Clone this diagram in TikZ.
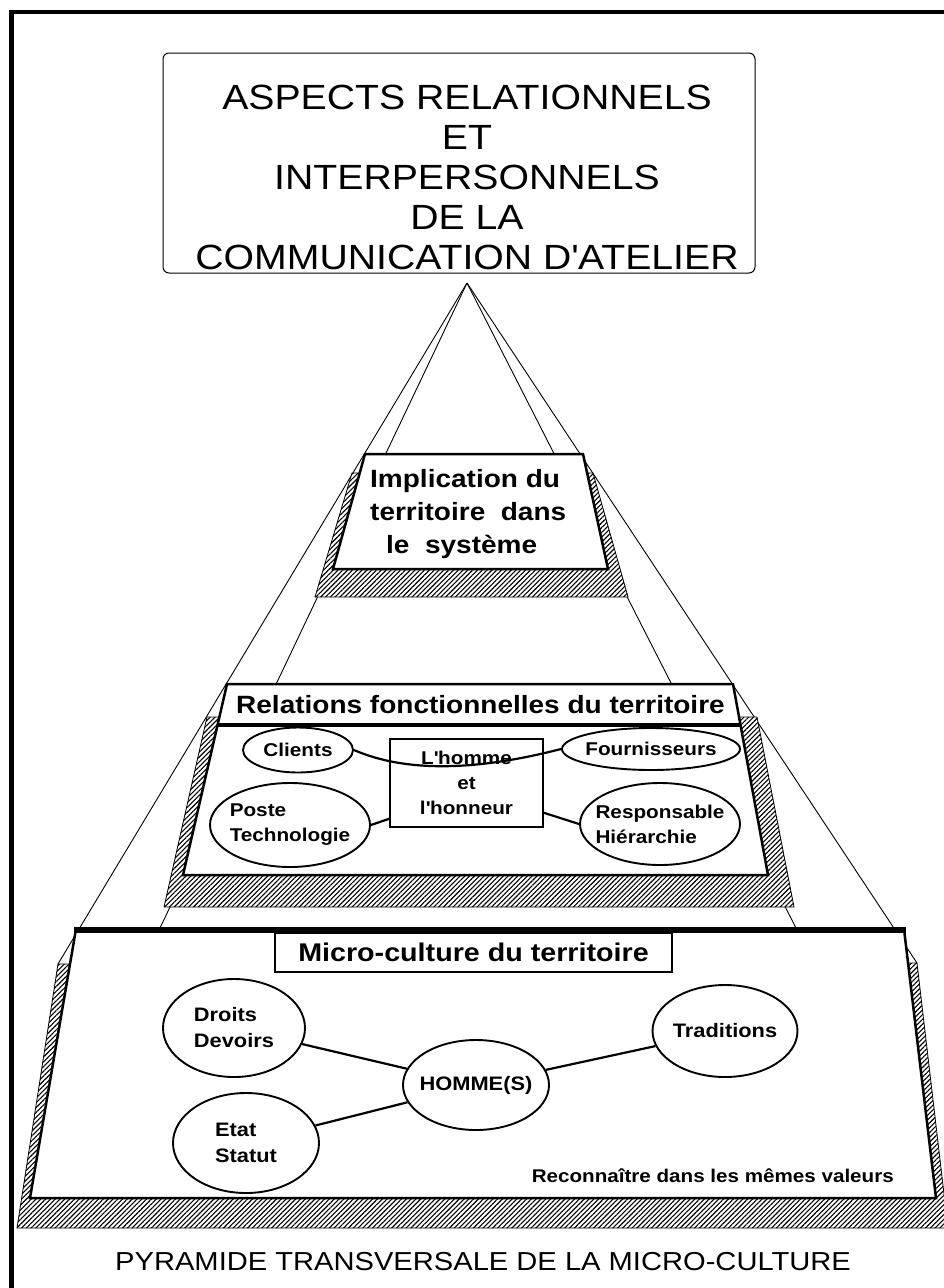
\documentclass[tikz,border=0pt]{standalone}
\usepackage{fontspec}
\setmainfont{Liberation Sans}[FakeStretch=1.12]
\usetikzlibrary{shapes.geometric,patterns.meta}
\tikzset{
  titlebox/.style={draw, rounded corners=6pt, line width=1pt, fill=white},
  titletext/.style={font=\fontsize{35}{40}\selectfont, align=center, inner sep=0pt},
  edgeline/.style={line width=0.9pt},
  levelbox/.style={draw, line width=2.5pt, fill=white, line join=miter},
  shadowbox/.style={draw, line width=0.8pt, preaction={fill=white},
    pattern={Lines[angle=45, distance=3.4pt, line width=1.1pt]}},
  lvltext/.style={font=\bfseries\fontsize{25}{33}\selectfont, inner sep=0pt},
  bubble/.style={ellipse, draw, line width=1.9pt, fill=white, inner sep=-14pt,
    align=left, font=\bfseries\fontsize{18.5}{25}\selectfont},
  bigbubble/.style={bubble, font=\bfseries\fontsize{19.5}{26}\selectfont},
  homebox/.style={draw, line width=1.5pt, fill=white, align=center,
    font=\bfseries\fontsize{18.5}{25}\selectfont},
  namebox/.style={draw, line width=1.8pt, fill=white, inner sep=0pt,
    font=\bfseries\fontsize{25.6}{30}\selectfont},
  link/.style={line width=2.2pt},
}
\begin{document}
\begin{tikzpicture}[x=1pt, y=-1pt]
  \useasboundingbox (0,0) rectangle (944,1288);
  % frame
  \draw[line width=4.5pt] (11.5,1288) -- (11.5,12) -- (946,12);

  % title
  \node[titlebox, minimum width=592pt, minimum height=220pt] (titlebox) at (459,163) {};
  \node[titletext, anchor=north] (title) at (467,85)
    {ASPECTS RELATIONNELS\\ET\\INTERPERSONNELS\\DE LA\\COMMUNICATION D\textquotesingle ATELIER};

  % pyramid edges
  \coordinate (apex) at (467,283);
  \coordinate (outerL) at (58,964);
  \coordinate (outerR) at (917,963);
  \coordinate (innerL) at (160,928);
  \coordinate (innerR) at (796,928);
  \draw[edgeline] (apex) -- (outerL);
  \draw[edgeline] (apex) -- (outerR);
  \draw[edgeline] (apex) -- (innerL);
  \draw[edgeline] (apex) -- (innerR);

  % top level
  \draw[shadowbox] (352,473) -- (593,473) -- (628,597) -- (315,597) -- cycle;
  \draw[levelbox] (365,454) -- (583,454) -- (608,569) -- (333,569) -- cycle;
  \node[lvltext, align=left, anchor=north west] (impl) at (370,469)
    {Implication du\\territoire\ \ dans\\\hspace*{16pt}le\ \ système};

  % middle level
  \draw[shadowbox] (207,717) -- (757,717) -- (794,907) -- (164,907) -- cycle;
  \draw[levelbox] (227,684) -- (733,684) -- (768,875) -- (183,875) -- cycle;
  \draw[line width=4pt] (217,725) -- (740,725);
  \node[lvltext, anchor=base west] (reltitle) at (236,713)
    {Relations fonctionnelles du territoire};
  \node[bubble, minimum width=110pt, minimum height=45pt] (clients) at (298,750) {Clients};
  \node[bubble, minimum width=160pt, minimum height=84pt] (poste) at (290,825)
    {Poste\\Technologie};
  \node[homebox, minimum width=153pt, minimum height=88pt] (hbox) at (466.5,783)
    {L\textquotesingle homme\\et\\l\textquotesingle honneur};
  \node[bubble, minimum width=178pt, minimum height=42pt] (fourn) at (651,749)
    {Fournisseurs};
  \node[bubble, minimum width=160pt, minimum height=82pt] (resp) at (660,824)
    {Responsable\\Hiérarchie};
  \draw[link] (clients.east) .. controls +(60,26) and +(-70,18) .. (fourn.west);
  \draw[link] (poste.east) -- ([yshift=9pt]hbox.south west);
  \draw[link] ([yshift=15pt]hbox.south east) -- (resp.west);

  % bottom level
  \draw[shadowbox] (58,964) -- (917,963) -- (948,1228) -- (17,1228) -- cycle;
  \draw[levelbox] (76,929) -- (904,929) -- (936,1198) -- (30,1198) -- cycle;
  \draw[line width=6pt] (74,929.5) -- (906,929.5);
  \node[namebox, minimum width=397pt, minimum height=39pt] (microtitle) at (473.5,952.5)
    {Micro-culture du territoire};
  \node[bigbubble, minimum width=142pt, minimum height=98pt] (droits) at (234,1028)
    {Droits\\Devoirs};
  \node[bigbubble, minimum width=146pt, minimum height=100pt] (etat) at (246,1143)
    {Etat\\Statut};
  \node[bigbubble, minimum width=146pt, minimum height=90pt] (homme) at (476,1085)
    {HOMME(S)};
  \node[bigbubble, minimum width=145pt, minimum height=92pt] (trad) at (725,1031)
    {Traditions};
  \draw[link] (droits) -- (homme);
  \draw[link] (etat) -- (homme);
  \draw[link] (homme) -- (trad);
  \node[font=\bfseries\fontsize{18.4}{22}\selectfont, inner sep=0pt, anchor=base east]
    (valeurs) at (894,1182) {Reconnaître dans les mêmes valeurs};

  % caption
  \node[font=\fontsize{26}{30}\selectfont, inner sep=0pt, anchor=base west]
    (caption) at (115,1270) {PYRAMIDE TRANSVERSALE DE LA MICRO-CULTURE};
\end{tikzpicture}
\end{document}
